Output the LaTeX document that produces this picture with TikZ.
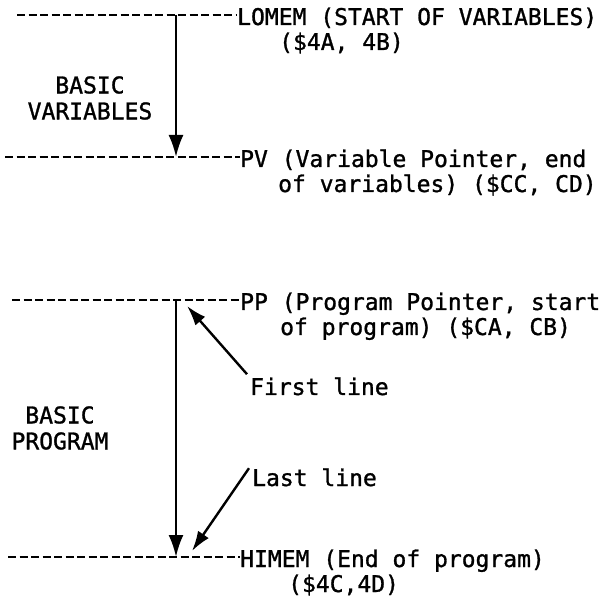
\documentclass[tikz,border=0pt]{standalone}
\usepackage{fontspec}
\setmonofont[FakeBold=1.2]{DejaVu Sans Mono}
\usetikzlibrary{arrows.meta}

\begin{document}
\begin{tikzpicture}[x=1pt,y=-1pt,
  txt/.style={anchor=base west,inner sep=0pt,font=\ttfamily\fontsize{23}{25}\selectfont},
  side/.style={inner sep=0pt,align=center,font=\ttfamily\fontsize{23}{26}\selectfont},
  marker/.style={dash pattern=on 8pt off 3.5pt,line width=2.6pt},
  span/.style={line width=2.4pt,-{Latex[length=22pt,width=15pt]}},
  pointer/.style={line width=2.4pt,-{Latex[length=20pt,width=13pt]}}]
  \useasboundingbox (0,0) rectangle (613,601);

  \coordinate (lomemL) at (17,15);
  \coordinate (pvL) at (5,157);
  \coordinate (ppL) at (12,300);
  \coordinate (himemL) at (8,557);

  \node [txt] (lomem) at (237,25) {LOMEM (START OF VARIABLES)};
  \node [txt] (lomemB) at (279,50) {(\$4A, 4B)};
  \node [txt] (pv) at (240,167) {PV (Variable Pointer, end};
  \node [txt] (pvB) at (278,192) {of variables) (\$CC, CD)};
  \node [txt] (pp) at (240,310) {PP (Program Pointer, start};
  \node [txt] (ppB) at (280,335) {of program) (\$CA, CB)};
  \node [txt] (himem) at (240,567) {HIMEM (End of program)};
  \node [txt] (himemB) at (288,592) {(\$4C,4D)};

  \node [side] (vars) at (90,98) {BASIC\\VARIABLES};
  \node [side] (prog) at (60,428) {BASIC\\PROGRAM};
  \node [txt] (first) at (250,395) {First line};
  \node [txt] (last) at (252,486) {Last line};

  \draw [marker] (lomemL) -- (lomemL -| lomem.west);
  \draw [marker] (pvL) -- (pvL -| pv.west);
  \draw [marker] (ppL) -- (ppL -| pp.west);
  \draw [marker] (himemL) -- (himemL -| himem.west);

  \coordinate (varTop) at (176,15);
  \coordinate (varBot) at (176,157);
  \coordinate (progTop) at (176,300);
  \coordinate (progBot) at (176,557);
  \draw [span] (varTop) -- (varBot);
  \draw [span] (progTop) -- (progBot);

  \coordinate (firstTip) at (187,306);
  \coordinate (lastTip) at (192,551);
  \draw [pointer] ([xshift=-3pt,yshift=3pt]first.north west) -- (firstTip);
  \draw [pointer] ([xshift=-3pt]last.north west) -- (lastTip);
\end{tikzpicture}
\end{document}
